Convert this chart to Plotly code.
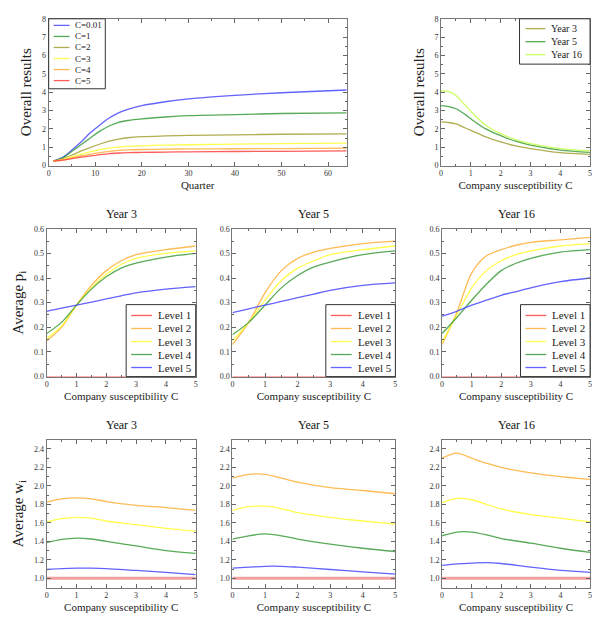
import plotly.graph_objects as go

# ---------------- data ----------------
quarters = [1, 3, 5, 7, 9, 11, 13, 15, 17, 20, 25, 30, 40, 50, 64]
c_names = ["C=0.01", "C=1", "C=2", "C=3", "C=4", "C=5"]
res_c001 = [0.25, 0.45, 0.85, 1.30, 1.80, 2.22, 2.60, 2.88, 3.07, 3.27, 3.48, 3.64, 3.83, 3.97, 4.12]
res_c1 = [0.25, 0.43, 0.78, 1.15, 1.52, 1.88, 2.16, 2.36, 2.46, 2.55, 2.65, 2.72, 2.78, 2.84, 2.88]
res_c2 = [0.25, 0.37, 0.58, 0.80, 1.00, 1.18, 1.33, 1.44, 1.52, 1.58, 1.62, 1.65, 1.68, 1.71, 1.73]
res_c3 = [0.25, 0.33, 0.48, 0.63, 0.76, 0.87, 0.95, 1.01, 1.05, 1.08, 1.12, 1.14, 1.17, 1.20, 1.23]
res_c4 = [0.25, 0.31, 0.42, 0.53, 0.63, 0.71, 0.78, 0.83, 0.86, 0.88, 0.90, 0.91, 0.92, 0.93, 0.95]
res_c5 = [0.25, 0.30, 0.38, 0.46, 0.53, 0.60, 0.66, 0.69, 0.71, 0.72, 0.74, 0.75, 0.77, 0.78, 0.80]

c_grid_res = [0, 0.25, 0.5, 0.75, 1, 1.5, 2, 2.5, 3, 4, 5]
year_names = ["Year 3", "Year 5", "Year 16"]
res_year3 = [2.38, 2.35, 2.27, 2.10, 1.92, 1.57, 1.29, 1.08, 0.93, 0.71, 0.62]
res_year5 = [3.27, 3.22, 3.10, 2.85, 2.55, 2.00, 1.63, 1.33, 1.12, 0.85, 0.72]
res_year16 = [4.08, 4.03, 3.82, 3.40, 2.95, 2.20, 1.74, 1.42, 1.20, 0.93, 0.80]

level_names = ["Level 1", "Level 2", "Level 3", "Level 4", "Level 5"]

c_grid_p = [0, 0.5, 1, 1.5, 2, 2.5, 3, 4, 5]
p_year3 = [
    [0, 0, 0, 0, 0, 0, 0, 0, 0],
    [0.145, 0.20, 0.29, 0.37, 0.43, 0.47, 0.495, 0.515, 0.53],
    [0.155, 0.205, 0.29, 0.36, 0.415, 0.455, 0.48, 0.50, 0.51],
    [0.175, 0.22, 0.29, 0.355, 0.405, 0.44, 0.46, 0.485, 0.50],
    [0.265, 0.278, 0.29, 0.302, 0.315, 0.328, 0.34, 0.355, 0.365],
]
p_year5 = [
    [0, 0, 0, 0, 0, 0, 0, 0, 0],
    [0.13, 0.22, 0.34, 0.43, 0.48, 0.505, 0.52, 0.54, 0.55],
    [0.145, 0.22, 0.31, 0.39, 0.44, 0.47, 0.495, 0.515, 0.53],
    [0.17, 0.22, 0.29, 0.36, 0.41, 0.445, 0.465, 0.495, 0.51],
    [0.26, 0.275, 0.29, 0.305, 0.32, 0.335, 0.35, 0.37, 0.38],
]
p_year16 = [
    [0, 0, 0, 0, 0, 0, 0, 0, 0],
    [0.13, 0.26, 0.42, 0.49, 0.515, 0.533, 0.545, 0.555, 0.565],
    [0.14, 0.25, 0.36, 0.43, 0.47, 0.495, 0.51, 0.53, 0.54],
    [0.175, 0.24, 0.31, 0.375, 0.43, 0.46, 0.48, 0.505, 0.515],
    [0.245, 0.265, 0.29, 0.31, 0.33, 0.345, 0.36, 0.385, 0.40],
]

c_grid_w = [0, 0.5, 1, 1.5, 2, 3, 4, 5]
w_year3 = [
    [1.0, 1.0, 1.0, 1.0, 1.0, 1.0, 1.0, 1.0],
    [1.825, 1.86, 1.87, 1.86, 1.83, 1.79, 1.765, 1.735],
    [1.61, 1.645, 1.66, 1.65, 1.62, 1.58, 1.54, 1.51],
    [1.385, 1.42, 1.435, 1.425, 1.40, 1.35, 1.30, 1.27],
    [1.095, 1.105, 1.11, 1.11, 1.105, 1.085, 1.065, 1.04],
]
w_year5 = [
    [1.0, 1.0, 1.0, 1.0, 1.0, 1.0, 1.0, 1.0],
    [2.085, 2.125, 2.125, 2.085, 2.04, 1.98, 1.95, 1.915],
    [1.735, 1.775, 1.78, 1.755, 1.71, 1.66, 1.62, 1.585],
    [1.425, 1.46, 1.48, 1.46, 1.425, 1.37, 1.325, 1.29],
    [1.11, 1.12, 1.13, 1.13, 1.12, 1.095, 1.07, 1.045],
]
w_year16 = [
    [1.0, 1.0, 1.0, 1.0, 1.0, 1.0, 1.0, 1.0],
    [2.30, 2.355, 2.30, 2.245, 2.20, 2.14, 2.10, 2.07],
    [1.82, 1.865, 1.85, 1.80, 1.75, 1.69, 1.65, 1.61],
    [1.46, 1.50, 1.50, 1.47, 1.43, 1.38, 1.325, 1.28],
    [1.14, 1.155, 1.165, 1.17, 1.16, 1.12, 1.085, 1.065],
]

# ---------------- style ----------------
FONT = "Liberation Serif"
W, H = 600, 629
BLUE, GREEN, OLIVE, YELLOW, ORANGE, RED = "#4848ff", "#3c9c3c", "#a4a034", "#ffff30", "#ffb038", "#ff4040"
c_colors = [BLUE, GREEN, OLIVE, YELLOW, ORANGE, RED]
year_colors = [OLIVE, GREEN, "#c4ff48"]
level_colors = [RED, ORANGE, YELLOW, GREEN, BLUE]


def fx(p):
    return p / W


def fy(p):
    return 1 - p / H


# panel pixel boxes (x0, x1, ytop, ybottom)
panels = {
    1: (47, 347, 15, 164),
    2: (442, 592, 15, 164),
    3: (45, 195, 228, 378),
    4: (232, 396, 228, 378),
    5: (443, 592, 228, 378),
    6: (45, 195, 442, 592),
    7: (232, 396, 442, 592),
    8: (443, 592, 442, 592),
}

fig = go.Figure()


def add(i, x, y, name, color, width=1.3, opacity=0.85):
    fig.add_trace(go.Scatter(
        x=x, y=y, name=name, mode="lines",
        line=dict(color=color, width=width, shape="spline", smoothing=0.8),
        opacity=opacity, showlegend=False,
        xaxis="x" if i == 1 else f"x{i}", yaxis="y" if i == 1 else f"y{i}",
    ))


for name, col, vals in zip(c_names, c_colors, [res_c001, res_c1, res_c2, res_c3, res_c4, res_c5]):
    add(1, quarters, vals, name, col)
for name, col, vals in zip(year_names, year_colors, [res_year3, res_year5, res_year16]):
    add(2, c_grid_res, vals, name, col)
for i, data in zip([3, 4, 5], [p_year3, p_year5, p_year16]):
    for name, col, vals in zip(level_names, level_colors, data):
        add(i, c_grid_p, vals, name, col)
for i, data in zip([6, 7, 8], [w_year3, w_year5, w_year16]):
    for k, (name, col, vals) in enumerate(zip(level_names, level_colors, data)):
        if k == 0:
            add(i, c_grid_w, vals, name, "#f07878", width=3, opacity=0.7)
        else:
            add(i, c_grid_w, vals, name, col)


def axis_common():
    return dict(
        showline=True, linecolor="#777", linewidth=1, mirror="allticks",
        ticks="inside", ticklen=4, tickcolor="#666", tickwidth=1,
        showgrid=False, zeroline=False,
        tickfont=dict(family=FONT, size=8, color="#333"),
    )


x_specs = {
    1: dict(range=[0, 64], dtick=10, minor_dtick=5, title="Quarter"),
    2: dict(range=[0, 5], dtick=1, minor_dtick=0.5, title="Company susceptibility C"),
}
for i in range(3, 9):
    x_specs[i] = dict(range=[0, 5], dtick=1, minor_dtick=0.5, title="Company susceptibility C")

y_specs = {
    1: dict(range=[0, 8], dtick=1, minor_dtick=0.5, fmt="d", title="Overall results"),
    2: dict(range=[0, 8], dtick=1, minor_dtick=0.5, fmt="d", title="Overall results"),
}
for i in (3, 4, 5):
    y_specs[i] = dict(range=[0, 0.6], dtick=0.1, minor_dtick=0.05, fmt=".1f",
                      title="Average p<sub>i</sub>" if i == 3 else None)
for i in (6, 7, 8):
    y_specs[i] = dict(range=[0.9, 2.5], dtick=0.2, minor_dtick=0.1, fmt=".1f",
                      title="Average w<sub>i</sub>" if i == 6 else None, tick0=1.0)

layout = dict(
    width=W, height=H, margin=dict(l=0, r=0, t=0, b=0),
    paper_bgcolor="white", plot_bgcolor="white", showlegend=False,
    font=dict(family=FONT, color="#222"),
)
for i, (x0, x1, yt, yb) in panels.items():
    xs, ys = x_specs[i], y_specs[i]
    xa = axis_common()
    xa.update(domain=[fx(x0), fx(x1)], range=xs["range"], dtick=xs["dtick"], tick0=0,
              minor=dict(dtick=xs["minor_dtick"], ticks="inside", ticklen=2, tickcolor="#666"),
              title=dict(text=xs["title"], font=dict(family=FONT, size=11, color="#222"), standoff=4),
              anchor="y" if i == 1 else f"y{i}")
    ya = axis_common()
    ya.update(domain=[fy(yb), fy(yt)], range=ys["range"], dtick=ys["dtick"], tick0=ys.get("tick0", 0),
              tickformat=ys["fmt"],
              minor=dict(dtick=ys["minor_dtick"], ticks="inside", ticklen=2, tickcolor="#666"),
              anchor="x" if i == 1 else f"x{i}")
    if ys["title"]:
        ya["title"] = dict(text=ys["title"], font=dict(family=FONT, size=15, color="#222"), standoff=6)
    layout["xaxis" if i == 1 else f"xaxis{i}"] = xa
    layout["yaxis" if i == 1 else f"yaxis{i}"] = ya

fig.update_layout(**layout)

# panel titles
for i, t in zip([3, 4, 5, 6, 7, 8], year_names * 2):
    x0, x1, yt, yb = panels[i]
    fig.add_annotation(x=fx((x0 + x1) / 2), y=fy(yt - 6), xref="paper", yref="paper",
                       text=t, showarrow=False, xanchor="center", yanchor="bottom",
                       font=dict(family=FONT, size=12, color="#111"))


# custom legends (compact, like the original)
def legend(names, colors, box, first_y, step, lx0, lx1, tx, size):
    bx0, by0, bx1, by1 = box
    fig.add_shape(type="rect", xref="paper", yref="paper",
                  x0=fx(bx0), x1=fx(bx1), y0=fy(by1), y1=fy(by0),
                  fillcolor="white", line=dict(color="#333", width=1), layer="above")
    for k, (n, c) in enumerate(zip(names, colors)):
        yy = first_y + k * step
        fig.add_shape(type="line", xref="paper", yref="paper",
                      x0=fx(lx0), x1=fx(lx1), y0=fy(yy), y1=fy(yy),
                      line=dict(color=c, width=1.3), opacity=0.85, layer="above")
        fig.add_annotation(x=fx(tx), y=fy(yy), xref="paper", yref="paper", text=n,
                           showarrow=False, xanchor="left", yanchor="middle",
                           font=dict(family=FONT, size=size, color="#222"))


legend(c_names, c_colors, (47, 15, 104, 86), 21.7, 11.2, 52, 68, 71, 9)
legend(year_names, year_colors, (521, 15, 592, 61), 25, 13.2, 527, 547, 551, 10)
for i in (3, 4, 5):
    x0, x1, yt, yb = panels[i]
    legend(level_names, level_colors, (x1 - 70, 305, x1, 378), 316, 13.2,
           x1 - 65, x1 - 44, x1 - 40, 11)

fig.write_html(
    "out.html",
    config={"displayModeBar": False},
    post_script="document.body.style.margin='0';document.body.style.overflow='hidden';",
)
